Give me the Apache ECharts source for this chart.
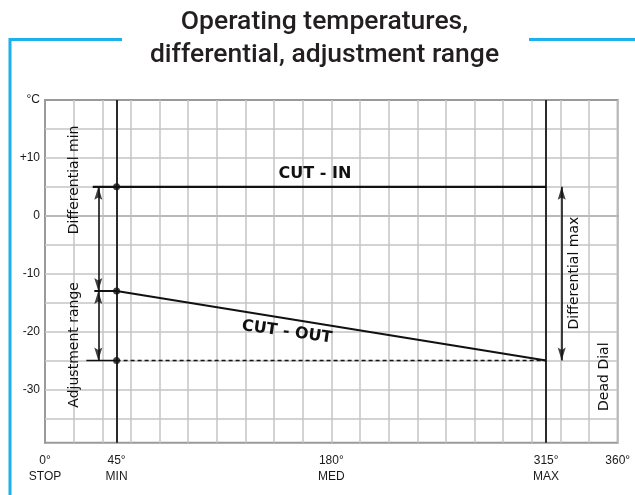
<!DOCTYPE html>
<html>
<head>
<meta charset="utf-8">
<script src="https://cdn.jsdelivr.net/npm/echarts@6/dist/echarts.min.js"></script>
<style>
html,body{margin:0;padding:0;background:#fff;}
#chart{width:635px;height:495px;}
</style>
</head>
<body>
<div id="chart"></div>
<script>
// ---- data ----
const titleText = 'Operating temperatures,\ndifferential, adjustment range';
const xTickValues = [0, 45, 180, 315, 360];
const xTickLabels = ['0°\nSTOP', '45°\nMIN', '180°\nMED', '315°\nMAX', '360°'];
const yTickValues = [-30, -20, -10, 0, 10, 20];
const yTickLabels = ['-30', '-20', '-10', '0', '+10', '°C'];
const yGridValues = [-35, -30, -25, -20, -15, -10, -5, 0, 5, 10, 15];
const dialStops = [45, 315];
const cutIn = [[30, 5], [315, 5]];
const cutOut = [[45, -13], [315, -25]];
const cutOutTick = [[31, -13], [45, -13]];
const deadTick = [[26, -25], [45, -25]];
const deadLine = [[45, -25], [315, -25]];
const setPoints = [[45, 5], [45, -13], [45, -25]];
const arrowX = [33.5, 33.5, 324.8];
const diffMin = [5, -13];
const adjRange = [-13, -25];
const diffMax = [5, -25];

const FONT = "'Liberation Sans', Arial, sans-serif";
const NOTE_FONT = "'DejaVu Sans', sans-serif";
const INK = '#111111';

const chart = echarts.init(document.getElementById('chart'), null, {renderer: 'canvas'});

function lineSeries(data, extra) {
  return Object.assign({
    type: 'line', data: data, symbol: 'none', silent: true, z: 4,
    lineStyle: {color: INK, width: 2}, animation: false
  }, extra || {});
}

const ranges = [diffMin, adjRange, diffMax];
const shafts = ranges.map((r, i) => [{coord: [arrowX[i], r[0]]}, {coord: [arrowX[i], r[1]]}]);
const upHeads = ranges.map((r, i) => [arrowX[i], r[0]]);
const downHeads = ranges.map((r, i) => [arrowX[i], r[1]]);
const ARROW = 'path://M5,0 L10,16 L5,13 L0,16 Z';

function textMark(name, x, y, rotate, style) {
  return {
    value: [x, y],
    label: Object.assign({
      show: true, formatter: name, rotate: rotate, position: 'inside',
      color: INK, fontFamily: NOTE_FONT, fontSize: 14,
      textBorderWidth: 0, opacity: 1
    }, style || {})
  };
}

const option = {
  animation: false,
  graphic: [
    {type: 'text', x: 324.5, y: 6, silent: true,
     style: {
       text: titleText, align: 'center', verticalAlign: 'top',
       fontFamily: "Roboto, 'Liberation Sans', sans-serif",
       fontWeight: 500, fontSize: 26.5, lineHeight: 33, fill: '#231f20'
     }},
    {type: 'polyline', shape: {points: [[122, 39.5], [10, 39.5], [10, 500]]},
     style: {stroke: '#1cb0ec', lineWidth: 3, fill: null}, silent: true},
    {type: 'line', shape: {x1: 529, y1: 39.5, x2: 640, y2: 39.5},
     style: {stroke: '#1cb0ec', lineWidth: 3}, silent: true}
  ],
  grid: {
    left: 45, top: 100, right: 17.3, bottom: 52.3,
    show: true, borderColor: '#9a9a9a', borderWidth: 2, backgroundColor: 'transparent'
  },
  xAxis: {
    type: 'value', min: 0, max: 360, interval: 18,
    axisLine: {show: true, lineStyle: {color: '#9a9a9a', width: 2}},
    axisTick: {show: false},
    splitLine: {show: true, lineStyle: {color: '#c4c4c4', width: 1.5}},
    axisLabel: {
      customValues: xTickValues,
      formatter: v => xTickLabels[xTickValues.indexOf(v)] || '',
      color: '#1a1a1a', fontFamily: FONT, fontSize: 12, lineHeight: 16, margin: 10
    }
  },
  yAxis: {
    type: 'value', min: -39.2, max: 20,
    axisLine: {show: true, lineStyle: {color: '#9a9a9a', width: 2}},
    axisTick: {show: false},
    splitLine: {show: false},
    axisLabel: {
      customValues: yTickValues,
      formatter: v => yTickLabels[yTickValues.indexOf(v)] || '',
      color: '#1a1a1a', fontFamily: FONT, fontSize: 12, margin: 5
    }
  },
  series: [
    // horizontal grid lines
    lineSeries([], {
      z: 1, lineStyle: {opacity: 0},
      markLine: {
        z: 1, silent: true, symbol: 'none', label: {show: false},
        lineStyle: {color: '#c4c4c4', width: 1.5, type: 'solid'},
        data: yGridValues.map(v => ({yAxis: v})), animation: false
      }
    }),
    // MIN / MAX dial positions
    lineSeries([], {
      z: 3, lineStyle: {opacity: 0},
      markLine: {
        z: 3, silent: true, symbol: 'none', label: {show: false},
        lineStyle: {color: '#2a2a2a', width: 2, type: 'solid'},
        data: dialStops.map(v => ({xAxis: v})), animation: false
      }
    }),
    lineSeries(cutIn, {name: 'CUT - IN', lineStyle: {color: INK, width: 2.2}}),
    lineSeries(cutOut, {name: 'CUT - OUT', lineStyle: {color: INK, width: 2}}),
    lineSeries(cutOutTick, {lineStyle: {color: INK, width: 2}}),
    lineSeries(deadTick, {lineStyle: {color: INK, width: 1.6}}),
    lineSeries(deadLine, {lineStyle: {color: INK, width: 1.6, type: [4, 3]}}),
    // arrow shafts
    lineSeries([], {
      z: 5, lineStyle: {opacity: 0},
      markLine: {
        z: 5, silent: true, symbol: 'none', label: {show: false},
        lineStyle: {color: INK, width: 1.6, type: 'solid'},
        data: shafts, animation: false
      }
    }),
    // arrow heads
    {
      type: 'scatter', data: upHeads, symbol: ARROW, symbolSize: [8, 13],
      symbolOffset: [0, 6.5], z: 6, silent: true, itemStyle: {color: INK}
    },
    {
      type: 'scatter', data: downHeads, symbol: ARROW, symbolSize: [8, 13],
      symbolRotate: 180, symbolOffset: [0, -6.5], z: 6, silent: true, itemStyle: {color: INK}
    },
    {
      type: 'scatter', data: setPoints, symbolSize: 7, z: 6, silent: true,
      itemStyle: {color: INK}
    },
    // annotations
    {
      type: 'scatter', symbolSize: 0, z: 7, silent: true,
      data: [
        textMark('Differential min', 18.2, 6.2, 90),
        textMark('Adjustment range', 18.2, -22.3, 90),
        textMark('Differential max', 332.5, -9.9, 90),
        textMark('Dead Dial', 351.4, -27.8, 90),
        textMark('CUT - IN', 169.7, 7.2, 0, {fontWeight: 'bold', fontSize: 16}),
        textMark('CUT - OUT', 152.1, -20.1, -8, {fontWeight: 'bold', fontSize: 16})
      ]
    }
  ]
};
chart.setOption(option);
</script>
</body>
</html>
